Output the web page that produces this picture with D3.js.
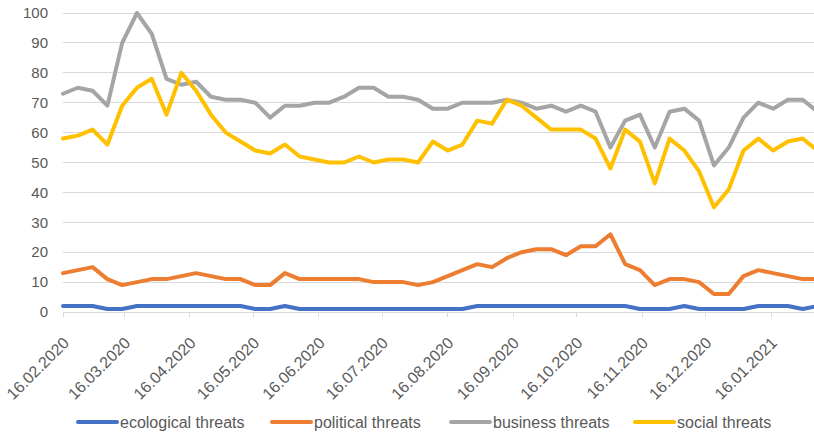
<!DOCTYPE html>
<html><head><meta charset="utf-8">
<script src="https://cdn.jsdelivr.net/npm/d3@7"></script>
<style>
body{margin:0;background:#fff}
svg{display:block}
text{font-family:"Liberation Sans",Arial,sans-serif;fill:#595959}
</style>
</head><body>
<svg id="c" width="814" height="435"></svg>
<script>
// ---- data ----
const firstWeek = "16.02.2020";
const seriesNames = ["ecological threats", "political threats", "business threats", "social threats"];
const ecological = [2,2,2,1,1,2,2,2,2,2,2,2,2,1,1,2,1,1,1,1,1,1,1,1,1,1,1,1,2,2,2,2,2,2,2,2,2,2,2,1,1,1,2,1,1,1,1,2,2,2,1,2];
const political  = [13,14,15,11,9,10,11,11,12,13,12,11,11,9,9,13,11,11,11,11,11,10,10,10,9,10,12,14,16,15,18,20,21,21,19,22,22,26,16,14,9,11,11,10,6,6,12,14,13,12,11,11];
const business   = [73,75,74,69,90,100,93,78,76,77,72,71,71,70,65,69,69,70,70,72,75,75,72,72,71,68,68,70,70,70,71,70,68,69,67,69,67,55,64,66,55,67,68,64,49,55,65,70,68,71,71,67];
const social     = [58,59,61,56,69,75,78,66,80,74,66,60,57,54,53,56,52,51,50,50,52,50,51,51,50,57,54,56,64,63,71,69,65,61,61,61,58,48,61,57,43,58,54,47,35,41,54,58,54,57,58,54];
const tickLabels = ["16.02.2020","16.03.2020","16.04.2020","16.05.2020","16.06.2020","16.07.2020","16.08.2020","16.09.2020","16.10.2020","16.11.2020","16.12.2020","16.01.2021"];
const yTicks = [0,10,20,30,40,50,60,70,80,90,100];

// ---- styles ----
const colors = ["#4472C4", "#ED7D31", "#A5A5A5", "#FFC000"];
const allSeries = [ecological, political, business, social];

const parse = d3.utcParse("%d.%m.%Y");
const start = parse(firstWeek);
const weekDates = ecological.map((_, i) => d3.utcDay.offset(start, 7 * i));
const tickDates = tickLabels.map(parse);

const svg = d3.select("#c");
const plotLeft = 63, plotRight = 814, plotTop = 13, plotBottom = 312;

const x = d3.scaleUtc().domain([tickDates[0], tickDates[tickDates.length - 1]]).range([63, 771]);
const y = d3.scaleLinear().domain([0, 100]).range([plotBottom, plotTop]);

// gridlines
svg.append("g").selectAll("line").data(yTicks).join("line")
  .attr("x1", plotLeft).attr("x2", plotRight)
  .attr("y1", d => y(d)).attr("y2", d => y(d))
  .attr("stroke", "#d9d9d9").attr("stroke-width", 1).attr("shape-rendering", "crispEdges");

// y labels
svg.append("g").selectAll("text").data(yTicks).join("text")
  .attr("x", 48).attr("y", d => y(d)).attr("dy", "0.35em")
  .attr("text-anchor", "end").style("font-size", "15px")
  .text(d => d);

// x tick marks
svg.append("g").selectAll("line").data(tickDates).join("line")
  .attr("x1", d => x(d)).attr("x2", d => x(d))
  .attr("y1", plotBottom).attr("y2", plotBottom + 5)
  .attr("stroke", "#d9d9d9").attr("shape-rendering", "crispEdges");

// x labels
svg.append("g").selectAll("text").data(tickDates).join("text")
  .attr("transform", d => `translate(${x(d) + 3},${plotBottom + 28}) rotate(-45)`)
  .attr("text-anchor", "end").attr("dy", "0.35em")
  .style("font-size", "16px")
  .text((d, i) => tickLabels[i]);

// lines
const line = d3.line().x((d, i) => x(weekDates[i])).y(d => y(d));
svg.append("g").selectAll("path").data(allSeries).join("path")
  .attr("d", line)
  .attr("fill", "none")
  .attr("stroke", (d, i) => colors[i])
  .attr("stroke-width", 4)
  .attr("stroke-linejoin", "round")
  .attr("stroke-linecap", "round");

// legend
const legendX = [78, 272, 451, 635];
const lg = svg.append("g").attr("transform", "translate(0,422)");
seriesNames.forEach((name, i) => {
  lg.append("line").attr("x1", legendX[i]).attr("x2", legendX[i] + 39)
    .attr("y1", 0).attr("y2", 0)
    .attr("stroke", colors[i]).attr("stroke-width", 4).attr("stroke-linecap", "round");
  lg.append("text").attr("x", legendX[i] + 42).attr("y", 0).attr("dy", "0.35em")
    .style("font-size", "16px").text(name);
});
</script>
</body></html>
